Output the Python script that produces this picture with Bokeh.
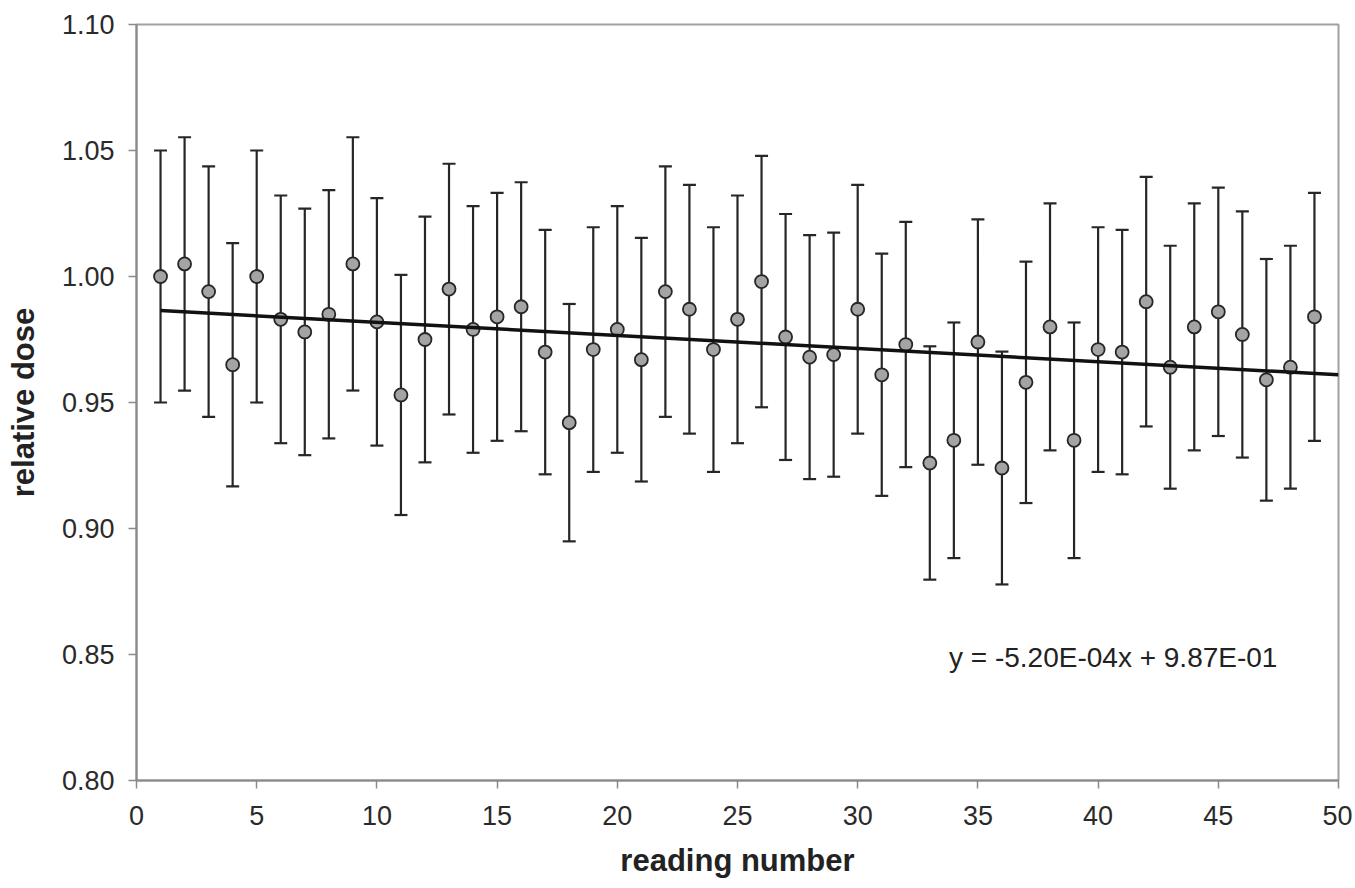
from bokeh.plotting import figure
from bokeh.models import (ColumnDataSource, Whisker, TeeHead, FixedTicker,
                          NumeralTickFormatter, Label, Range1d)
from bokeh.embed import file_html
from bokeh.resources import INLINE

# ---- data ----
readings = list(range(1, 50))
dose = [1.000, 1.005, 0.994, 0.965, 1.000, 0.983, 0.978, 0.985, 1.005, 0.982,
        0.953, 0.975, 0.995, 0.979, 0.984, 0.988, 0.970, 0.942, 0.971, 0.979,
        0.967, 0.994, 0.987, 0.971, 0.983, 0.998, 0.976, 0.968, 0.969, 0.987,
        0.961, 0.973, 0.926, 0.935, 0.974, 0.924, 0.958, 0.980, 0.935, 0.971,
        0.970, 0.990, 0.964, 0.980, 0.986, 0.977, 0.959, 0.964, 0.984]
error_percent = 5.0          # percentage error bars
trend_slope = -5.20e-04
trend_intercept = 9.87e-01
trend_x = [1, 50]
equation_label = "y = -5.20E-04x + 9.87E-01"
x_ticks = [0, 5, 10, 15, 20, 25, 30, 35, 40, 45, 50]
y_ticks = [0.80, 0.85, 0.90, 0.95, 1.00, 1.05, 1.10]
x_title = "reading number"
y_title = "relative dose"

FONT = "Liberation Sans"
DARK = "#262626"
AXIS_GREY = "#8a8a8a"

upper = [v * (1 + error_percent / 100.0) for v in dose]
lower = [v * (1 - error_percent / 100.0) for v in dose]
src = ColumnDataSource(dict(x=readings, y=dose, upper=upper, lower=lower))

p = figure(frame_width=1202, frame_height=756,
           x_range=Range1d(0, 50), y_range=Range1d(0.80, 1.10),
           output_backend="svg", toolbar_location=None,
           min_border_left=136, min_border_top=24,
           min_border_right=14, min_border_bottom=108)
p.background_fill_color = "white"
p.border_fill_color = "white"
p.outline_line_color = "#a0a0a0"
p.outline_line_width = 2
p.xgrid.visible = False
p.ygrid.visible = False

# error bars
whisk = Whisker(base="x", upper="upper", lower="lower", source=src,
                line_color=DARK, line_width=2.2,
                upper_head=TeeHead(size=13, line_color=DARK, line_width=2.2),
                lower_head=TeeHead(size=13, line_color=DARK, line_width=2.2))
p.add_layout(whisk)

# data points
p.scatter("x", "y", source=src, size=13, fill_color="#a4a4a4",
          line_color=DARK, line_width=1.8)

# linear trend line
trend_y = [trend_intercept + trend_slope * xx for xx in trend_x]
p.line(trend_x, trend_y, line_color="#111111", line_width=3.5)

# equation label
p.add_layout(Label(x=47.46, y=0.8488, text=equation_label,
                   text_align="right", text_baseline="middle",
                   text_font=FONT, text_font_size="28px", text_color="#222222"))

# axes
for ax in (p.xaxis[0], p.yaxis[0]):
    ax.axis_line_color = AXIS_GREY
    ax.axis_line_width = 2
    ax.major_tick_line_color = AXIS_GREY
    ax.major_tick_line_width = 1.5
    ax.major_tick_in = 0
    ax.major_tick_out = 8
    ax.minor_tick_line_color = None
    ax.major_label_text_font = FONT
    ax.major_label_text_font_size = "27px"
    ax.major_label_text_color = "#2a2a2a"
    ax.axis_label_text_font = FONT
    ax.axis_label_text_font_size = "31px"
    ax.axis_label_text_font_style = "bold"
    ax.axis_label_text_color = "#222222"

p.xaxis.ticker = FixedTicker(ticks=x_ticks)
p.yaxis.ticker = FixedTicker(ticks=y_ticks)
p.yaxis.formatter = NumeralTickFormatter(format="0.00")
p.xaxis.axis_label = x_title
p.yaxis.axis_label = y_title
p.xaxis.major_label_standoff = 17
p.yaxis.major_label_standoff = 14
p.xaxis.axis_label_standoff = 15
p.yaxis.axis_label_standoff = 18

open("out.html", "w").write(file_html(p, INLINE))
